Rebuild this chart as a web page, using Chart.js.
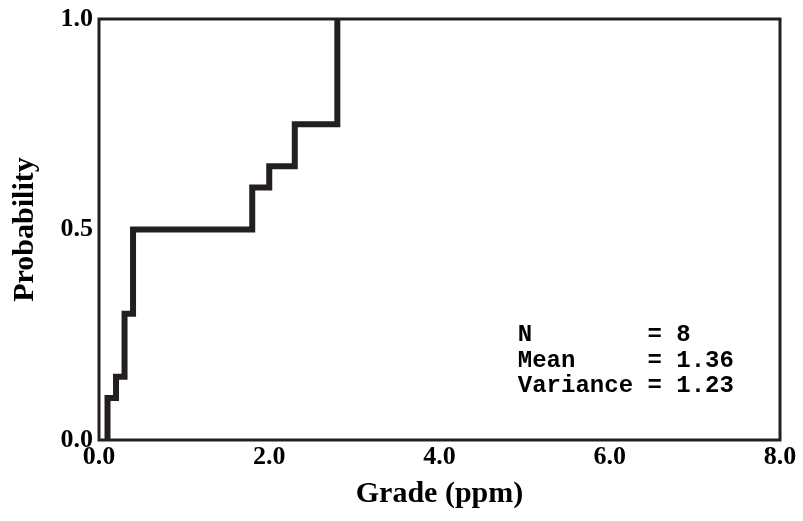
<!DOCTYPE html>
<html>
<head>
<meta charset="utf-8">
<script src="https://cdn.jsdelivr.net/npm/chart.js@4/dist/chart.umd.min.js"></script>
<style>
  html, body { margin: 0; padding: 0; background: #ffffff; }
  #wrap { width: 803px; height: 521px; }
</style>
</head>
<body>
<div id="wrap"><canvas id="cdfChart" width="803" height="521"></canvas></div>
<script>
// grade values where the cumulative probability steps up
const grades = [0.1, 0.2, 0.3, 0.4, 1.8, 2.0, 2.3, 2.8];
// cumulative probability reached at each grade
const cumProb = [0.1, 0.15, 0.3, 0.5, 0.6, 0.65, 0.75, 1.0];

const xTicks = [0, 2, 4, 6, 8];
const yTicks = [0, 0.5, 1];

const statLabels = ["N", "Mean", "Variance"];
const statValues = ["8", "1.36", "1.23"];

const ink = "#231f20";
const serif = "'Liberation Serif', 'Times New Roman', serif";

// step curve starts on the axis at the first grade
const points = [{ x: grades[0], y: 0 }].concat(
  grades.map((g, i) => ({ x: g, y: cumProb[i] }))
);

// frame around plot area + summary text
const framePlugin = {
  id: "frame",
  afterDatasetsDraw(chart) {
    const { ctx, chartArea: a, scales } = chart;
    ctx.save();
    ctx.strokeStyle = ink;
    ctx.lineWidth = 3;
    ctx.strokeRect(a.left, a.top, a.right - a.left, a.bottom - a.top);

    const width = Math.max(...statLabels.map((s) => s.length));
    ctx.fillStyle = "#000";
    ctx.font = "bold 24px 'Liberation Mono', 'Courier New', monospace";
    ctx.textBaseline = "alphabetic";
    const x0 = scales.x.getPixelForValue(4.92);
    const y0 = scales.y.getPixelForValue(0.234);
    statLabels.forEach((lab, i) => {
      ctx.fillText(lab.padEnd(width) + " = " + statValues[i], x0, y0 + i * 25.5);
    });
    ctx.restore();
  },
};

const ctx = document.getElementById("cdfChart").getContext("2d");

new Chart(ctx, {
  type: "line",
  data: {
    datasets: [
      {
        data: points,
        stepped: "before",
        borderColor: ink,
        borderWidth: 6,
        pointRadius: 0,
        fill: false,
      },
    ],
  },
  options: {
    responsive: false,
    animation: false,
    layout: { padding: { top: 13, right: 23, bottom: 0, left: 0 } },
    plugins: {
      legend: { display: false },
      tooltip: { enabled: false },
    },
    scales: {
      x: {
        type: "linear",
        min: 0,
        max: 8,
        afterBuildTicks: (s) => {
          s.ticks = xTicks.map((v) => ({ value: v }));
        },
        afterFit: (s) => {
          s.height = 81;
        },
        grid: { display: false, drawTicks: false },
        border: { display: false },
        ticks: {
          padding: 4,
          color: "#000",
          font: { family: serif, size: 26, weight: "bold", lineHeight: 1 },
          callback: (v) => Number(v).toFixed(1),
        },
        title: {
          display: true,
          text: "Grade (ppm)",
          color: "#000",
          font: { family: serif, size: 30, weight: "bold", lineHeight: 1.2 },
          padding: { top: 0, bottom: 9 },
        },
      },
      y: {
        min: 0,
        max: 1,
        afterBuildTicks: (s) => {
          s.ticks = yTicks.map((v) => ({ value: v }));
        },
        afterFit: (s) => {
          s.width = 99;
        },
        grid: { display: false, drawTicks: false },
        border: { display: false },
        ticks: {
          padding: 6,
          color: "#000",
          font: { family: serif, size: 26, weight: "bold", lineHeight: 1 },
          callback: (v) => Number(v).toFixed(1),
        },
        title: {
          display: true,
          text: "Probability",
          color: "#000",
          font: { family: serif, size: 30, weight: "bold", lineHeight: 1.2 },
          padding: { top: 7, bottom: 0 },
        },
      },
    },
  },
  plugins: [framePlugin],
});
</script>
</body>
</html>
